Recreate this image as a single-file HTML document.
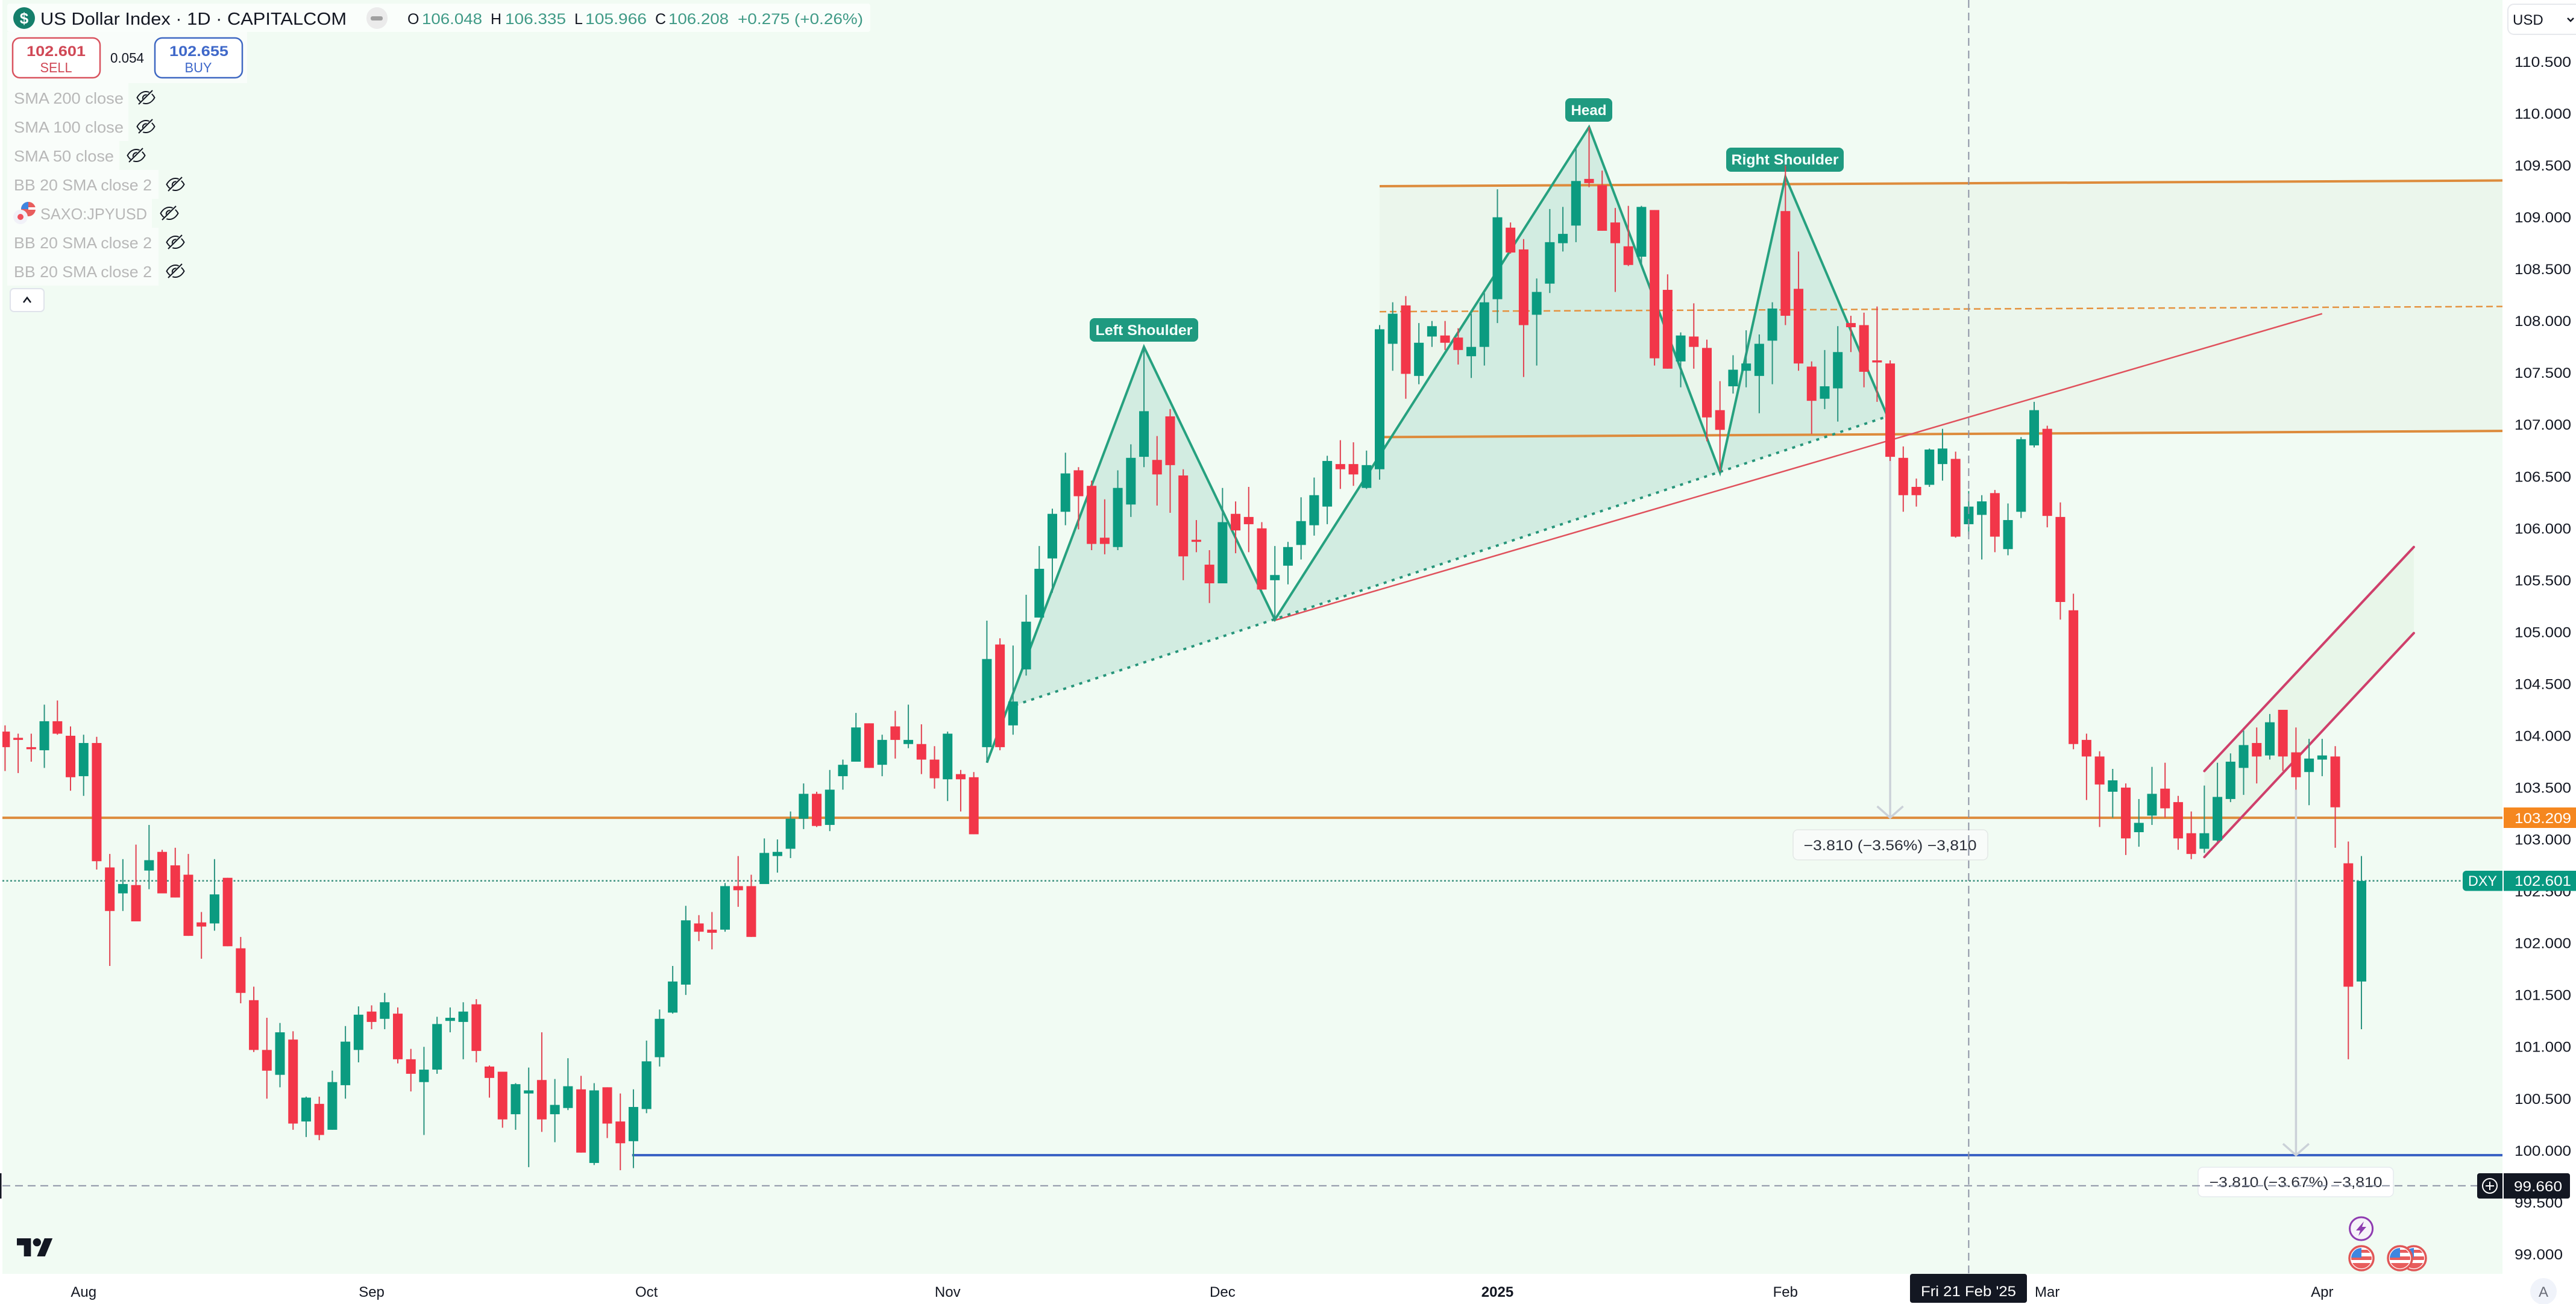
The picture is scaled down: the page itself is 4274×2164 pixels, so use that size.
<!DOCTYPE html>
<html lang="en">
<head>
<meta charset="utf-8">
<title>US Dollar Index 1D chart</title>
<style>
html,body{margin:0;padding:0;background:#fff;width:4274px;height:2164px;overflow:hidden}
svg{display:block;font-family:"Liberation Sans",sans-serif}
</style>
</head>
<body>
<svg id="chart" xmlns="http://www.w3.org/2000/svg" width="4274" height="2164" viewBox="0 0 4274 2164">
  <defs>
    <clipPath id="plot-clip"><rect x="4" y="0" width="4148" height="2114"/></clipPath>
    <clipPath id="flag-clip"><circle cx="0" cy="0" r="17"/></clipPath>
    <symbol id="eye" viewBox="-16 -13 32 26" overflow="visible">
      <path d="M-14.5 0C-10 -8 -4 -10 0 -10C4 -10 10 -8 14.5 0C10 8 4 10 0 10C-4 10 -10 8 -14.5 0Z" fill="none" stroke="#131722" stroke-width="2"/>
      <path d="M-5 3C-6 -3 -2 -5 2 -4.500" fill="none" stroke="#131722" stroke-width="2"/>
      <path d="M-11 12L12 -12" stroke="#f1fbf3" stroke-width="5"/>
      <path d="M-12 11L11 -12" stroke="#131722" stroke-width="2"/>
    </symbol>
    <symbol id="usflag" viewBox="-22 -22 44 44" overflow="visible">
      <circle cx="0" cy="0" r="20" fill="#fff" stroke="#e05656" stroke-width="3.500"/>
      <g clip-path="url(#flag-clip)">
        <rect x="-17" y="-3" width="34" height="6" fill="#e85d5d"/>
        <rect x="-17" y="8" width="34" height="10" fill="#e85d5d"/>
        <rect x="-17" y="-17" width="17" height="16" fill="#3f86e0"/>
        <rect x="0" y="-14" width="17" height="5" fill="#e85d5d"/>
      </g>
    </symbol>
  </defs>

  <rect x="0" y="0" width="4274" height="2164" fill="#ffffff"/>
  <rect x="4" y="0" width="4148" height="2114" fill="#f1fbf3"/>

  <g id="drawings" clip-path="url(#plot-clip)"></g>
  <g id="pattern-labels">
    <rect x="1808" y="528" width="180" height="39" rx="8" fill="#1f9a80"/>
    <text x="1898" y="556" text-anchor="middle" font-size="24" font-weight="700" fill="#f4fffb" textLength="161" lengthAdjust="spacingAndGlyphs">Left Shoulder</text>
    <rect x="2597" y="163" width="78" height="39" rx="8" fill="#1f9a80"/>
    <text x="2636" y="191" text-anchor="middle" font-size="24" font-weight="700" fill="#f4fffb" textLength="59" lengthAdjust="spacingAndGlyphs">Head</text>
    <rect x="2864" y="245" width="195" height="40" rx="8" fill="#1f9a80"/>
    <text x="2961.500" y="273" text-anchor="middle" font-size="24" font-weight="700" fill="#f4fffb" textLength="178" lengthAdjust="spacingAndGlyphs">Right Shoulder</text>
  </g>
  <g id="candles" clip-path="url(#plot-clip)"></g>

  <g>
    <rect x="2975" y="1377" width="323" height="50" rx="8" fill="#f8fbf9" stroke="#e3e8e6" stroke-width="1.500"/>
    <text x="3136" y="1411" text-anchor="middle" font-size="24" fill="#2a2e39" textLength="287" lengthAdjust="spacingAndGlyphs">−3.810 (−3.56%) −3,810</text>
    <rect x="3647" y="1937" width="324" height="49" rx="8" fill="#ffffff" stroke="#e6eaee" stroke-width="1.500"/>
    <text x="3809" y="1970" text-anchor="middle" font-size="24" fill="#2a2e39" textLength="287" lengthAdjust="spacingAndGlyphs">−3.810 (−3.67%) −3,810</text>
  </g>
  <g id="crosshair" clip-path="url(#plot-clip)"></g>

  <g transform="translate(28 2048.300) scale(1.667)" fill="#131722">
    <path d="M14 22H7V11H0V4h14v18zM28 22h-8l7.500-18h8L28 22z"/>
    <circle cx="20" cy="8" r="4"/>
  </g>

  <g>
    <g>
      <circle cx="3917.600" cy="2039" r="19" fill="#f6f2f9" stroke="#8e3bb0" stroke-width="3"/>
      <path d="M3922 2027L3909 2042H3916L3913 2051L3926 2036H3919Z" fill="#8e3bb0"/>
    </g>
    <use href="#usflag" x="3983" y="2066" width="44" height="44"/>
    <use href="#usflag" x="3960" y="2066" width="44" height="44"/>
    <use href="#usflag" x="3896" y="2066" width="44" height="44"/>
  </g>

  <g>
    <rect x="12" y="6" width="1432" height="47" rx="4" fill="#ffffff" fill-opacity="0.65"/>
    <rect x="12" y="53" width="398" height="85" fill="#ffffff" fill-opacity="0.6"/>
    <circle cx="40" cy="30" r="18" fill="#157f6b"/>
    <text x="40" y="39.500" text-anchor="middle" font-size="26" font-weight="700" fill="#ffffff">$</text>
    <text x="67" y="41" font-size="29" fill="#131722" textLength="508" lengthAdjust="spacingAndGlyphs">US Dollar Index · 1D · CAPITALCOM</text>
    <rect x="608" y="12" width="35" height="36" rx="17.500" fill="#ebebeb"/>
    <rect x="615" y="27" width="20" height="7" rx="3" fill="#a0a0a0"/>
    <text x="676" y="40" font-size="25" fill="#131722">O</text>
    <text x="700" y="40" font-size="25" fill="#3f9a86" textLength="100" lengthAdjust="spacingAndGlyphs">106.048</text>
    <text x="814" y="40" font-size="25" fill="#131722">H</text>
    <text x="838" y="40" font-size="25" fill="#3f9a86" textLength="101" lengthAdjust="spacingAndGlyphs">106.335</text>
    <text x="953" y="40" font-size="25" fill="#131722">L</text>
    <text x="971" y="40" font-size="25" fill="#3f9a86" textLength="102" lengthAdjust="spacingAndGlyphs">105.966</text>
    <text x="1087" y="40" font-size="25" fill="#131722">C</text>
    <text x="1109" y="40" font-size="25" fill="#3f9a86" textLength="100" lengthAdjust="spacingAndGlyphs">106.208</text>
    <text x="1224" y="40" font-size="25" fill="#3f9a86" textLength="208" lengthAdjust="spacingAndGlyphs">+0.275 (+0.26%)</text>

    <rect x="21" y="63" width="145" height="66" rx="12" fill="#ffffff" stroke="#d9535f" stroke-width="2.500"/>
    <text x="93" y="93" text-anchor="middle" font-size="24" font-weight="700" fill="#d04856" textLength="98" lengthAdjust="spacingAndGlyphs">102.601</text>
    <text x="93" y="120" text-anchor="middle" font-size="23" fill="#d04856" textLength="53" lengthAdjust="spacingAndGlyphs">SELL</text>
    <text x="211" y="104" text-anchor="middle" font-size="23" fill="#131722" textLength="56" lengthAdjust="spacingAndGlyphs">0.054</text>
    <rect x="257" y="63" width="145" height="66" rx="12" fill="#ffffff" stroke="#3f68c2" stroke-width="2.500"/>
    <text x="330" y="93" text-anchor="middle" font-size="24" font-weight="700" fill="#3f68c9" textLength="98" lengthAdjust="spacingAndGlyphs">102.655</text>
    <text x="329" y="120" text-anchor="middle" font-size="23" fill="#3f68c9" textLength="45" lengthAdjust="spacingAndGlyphs">BUY</text>

    <rect x="12" y="138" width="201" height="48" fill="#ffffff" fill-opacity="0.6"/>
    <rect x="12" y="186" width="201" height="48" fill="#ffffff" fill-opacity="0.6"/>
    <rect x="12" y="234" width="186" height="48" fill="#ffffff" fill-opacity="0.6"/>
    <rect x="12" y="282" width="251" height="48" fill="#ffffff" fill-opacity="0.6"/>
    <rect x="12" y="330" width="240" height="48" fill="#ffffff" fill-opacity="0.6"/>
    <rect x="12" y="378" width="251" height="48" fill="#ffffff" fill-opacity="0.6"/>
    <rect x="12" y="426" width="251" height="48" fill="#ffffff" fill-opacity="0.6"/>

    <text x="23" y="172" font-size="26" fill="#b8b8b8" textLength="182" lengthAdjust="spacingAndGlyphs">SMA 200 close</text>
    <text x="23" y="220" font-size="26" fill="#b8b8b8" textLength="182" lengthAdjust="spacingAndGlyphs">SMA 100 close</text>
    <text x="23" y="268" font-size="26" fill="#b8b8b8" textLength="166" lengthAdjust="spacingAndGlyphs">SMA 50 close</text>
    <text x="23" y="316" font-size="26" fill="#b8b8b8" textLength="229" lengthAdjust="spacingAndGlyphs">BB 20 SMA close 2</text>
    <text x="67" y="364" font-size="26" fill="#b8b8b8" textLength="177" lengthAdjust="spacingAndGlyphs">SAXO:JPYUSD</text>
    <text x="23" y="412" font-size="26" fill="#b8b8b8" textLength="229" lengthAdjust="spacingAndGlyphs">BB 20 SMA close 2</text>
    <text x="23" y="460" font-size="26" fill="#b8b8b8" textLength="229" lengthAdjust="spacingAndGlyphs">BB 20 SMA close 2</text>

    <use href="#eye" x="226" y="149" width="32" height="26"/>
    <use href="#eye" x="226" y="197" width="32" height="26"/>
    <use href="#eye" x="210" y="245" width="32" height="26"/>
    <use href="#eye" x="275" y="293" width="32" height="26"/>
    <use href="#eye" x="265" y="341" width="32" height="26"/>
    <use href="#eye" x="275" y="389" width="32" height="26"/>
    <use href="#eye" x="275" y="437" width="32" height="26"/>

    <g>
      <circle cx="47" cy="347" r="12" fill="#e85d5d"/>
      <path d="M35 347A12 12 0 0 1 47 335V347Z" fill="#3f86e0"/>
      <rect x="47" y="344" width="12" height="4" fill="#ffffff"/>
      <circle cx="34" cy="360" r="12" fill="#f1f1f8"/>
      <circle cx="34" cy="360" r="5" fill="#f0505c"/>
    </g>

    <rect x="17" y="479" width="56" height="38" rx="6" fill="#ffffff" stroke="#e0e3eb" stroke-width="2"/>
    <path d="M39 502L45 494L51 502" fill="none" stroke="#131722" stroke-width="2.500"/>
  </g>

  <g id="y-axis">
    <rect x="4152" y="0" width="122" height="2164" fill="#ffffff"/>
    <rect x="4161" y="7" width="125" height="50" rx="10" fill="#ffffff" stroke="#e6e8ec" stroke-width="2"/>
    <text x="4169" y="41" font-size="24" fill="#131722">USD</text>
    <path d="M4260 30L4265 35L4270 30" fill="none" stroke="#131722" stroke-width="2.500"/>
  </g>
  <g id="x-axis">
    <rect x="0" y="2114" width="4152" height="50" fill="#ffffff"/>
  </g>

  <g>
    <rect x="4154" y="1340" width="120" height="34" fill="#f5871f"/>
    <text x="4172" y="1366" font-size="24" fill="#ffffff" textLength="94" lengthAdjust="spacingAndGlyphs">103.209</text>
    <path d="M4152 1445H4092a6 6 0 0 0 -6 6V1472.500a6 6 0 0 0 6 6H4152Z" fill="#089981"/>
    <text x="4119" y="1470" text-anchor="middle" font-size="24" fill="#ffffff" textLength="48" lengthAdjust="spacingAndGlyphs">DXY</text>
    <rect x="4154" y="1445" width="120" height="33.500" fill="#089981"/>
    <text x="4172" y="1470" font-size="24" fill="#ffffff" textLength="94" lengthAdjust="spacingAndGlyphs">102.601</text>
    <path d="M4152 1947H4114a4 4 0 0 0 -4 4V1985a4 4 0 0 0 4 4H4152Z" fill="#131722"/>
    <circle cx="4131" cy="1968" r="12" fill="none" stroke="#ffffff" stroke-width="2"/>
    <path d="M4124 1968H4138M4131 1961V1975" stroke="#ffffff" stroke-width="2"/>
    <path d="M4154 1947H4260a4 4 0 0 1 4 4V1985a4 4 0 0 1 -4 4H4154Z" fill="#131722"/>
    <text x="4171" y="1977" font-size="24" fill="#ffffff" textLength="80" lengthAdjust="spacingAndGlyphs">99.660</text>
    <rect x="3169" y="2114" width="194" height="48" rx="4" fill="#131722"/>
    <text x="3266" y="2151" text-anchor="middle" font-size="24" fill="#ffffff" textLength="158" lengthAdjust="spacingAndGlyphs">Fri 21 Feb '25</text>
    <circle cx="4220" cy="2143" r="22" fill="#f0f3fa"/>
    <text x="4220" y="2152" text-anchor="middle" font-size="24" fill="#6a6d78">A</text>
    <rect x="0" y="1947" width="2.500" height="42" fill="#131722"/>
  </g>
</svg>

<script>
// ---------- candle data ----------
const opens = [
104.04,103.98,103.89,103.86,104.14,104.00,103.61,103.93,102.73,102.48,
102.56,102.70,102.88,102.75,102.66,102.20,102.19,102.63,101.95,101.45,
100.97,100.73,101.07,100.28,100.45,100.20,100.63,100.97,101.34,101.27,
101.32,100.88,100.66,100.78,101.25,101.24,101.41,100.81,100.76,100.35,
100.55,100.68,100.35,100.41,100.59,99.88,100.61,100.28,100.09,100.40,
100.90,101.33,101.60,102.19,102.13,102.13,102.55,102.55,102.57,102.84,
102.91,103.20,103.44,103.14,103.61,103.75,104.12,103.72,104.09,103.92,
103.92,103.77,103.58,103.63,103.60,103.89,104.88,104.10,104.64,105.14,
105.71,106.16,106.56,106.41,105.91,105.82,106.23,106.69,106.66,107.08,
106.51,105.89,105.65,105.47,106.14,106.11,106.00,105.50,105.64,105.84,
106.03,106.21,106.62,106.62,106.39,106.57,107.78,108.15,107.47,107.85,
107.86,107.84,107.66,107.75,108.21,108.90,108.69,108.06,108.36,108.75,
108.92,109.37,109.31,108.95,108.72,108.62,109.07,108.30,107.61,107.85,
107.74,107.14,107.37,107.52,107.47,107.81,109.06,108.31,107.56,107.25,
107.35,107.98,107.96,107.62,107.59,106.68,106.40,106.42,106.62,106.67,
106.04,106.13,106.34,105.80,106.16,106.80,106.96,106.11,105.21,103.96,
103.80,103.46,103.50,103.07,103.23,103.49,103.36,103.06,102.91,102.99,
103.39,103.69,103.93,103.81,104.25,103.84,103.65,103.77,103.80,102.77,101.63];
const closes = [
103.89,103.96,103.87,104.14,104.02,103.60,103.93,102.79,102.31,102.57,
102.21,102.80,102.48,102.44,102.07,102.16,102.47,101.97,101.52,100.97,
100.77,101.14,100.26,100.51,100.15,100.66,101.05,101.31,101.24,101.43,
100.88,100.74,100.78,101.22,101.28,101.34,100.96,100.70,100.30,100.64,
100.58,100.30,100.44,100.62,99.98,100.58,100.26,100.07,100.42,100.86,
101.27,101.63,102.22,102.11,102.10,102.55,102.51,102.06,102.87,102.88,
103.20,103.44,103.13,103.48,103.72,104.08,103.69,103.96,103.96,103.96,
103.77,103.59,104.02,103.58,103.05,104.74,103.89,104.33,105.10,105.61,
106.14,106.53,106.31,105.85,105.85,106.39,106.68,107.13,106.52,106.61,
105.73,105.87,105.47,106.06,105.98,106.04,105.41,105.55,105.82,106.07,
106.32,106.65,106.57,106.52,106.61,107.92,108.07,107.49,107.79,107.95,
107.79,107.72,107.75,108.18,109.00,108.66,107.96,108.28,108.76,108.84,
109.35,109.33,108.87,108.75,108.54,109.10,107.64,107.54,107.86,107.75,
107.07,106.95,107.53,107.59,107.78,108.12,108.05,107.59,107.23,107.37,
107.70,107.94,107.51,107.60,106.69,106.32,106.32,106.76,106.77,105.92,
106.21,106.26,105.92,106.08,106.86,107.14,106.12,105.29,103.92,103.80,
103.53,103.57,103.01,103.16,103.44,103.30,103.01,102.86,103.06,103.41,
103.75,103.91,103.80,104.13,103.80,103.60,103.78,103.81,103.31,101.58,102.60];
const highs = [
104.10,104.02,104.02,104.30,104.34,104.09,104.01,103.99,102.86,102.81,
102.95,103.14,102.90,102.92,102.86,102.30,102.81,102.63,102.06,101.58,
101.28,101.23,101.15,100.52,100.52,100.77,101.20,101.39,101.40,101.52,
101.38,100.98,101.00,101.29,101.38,101.43,101.46,100.82,100.76,100.65,
100.80,101.14,100.69,100.89,100.72,100.65,100.61,100.55,100.59,101.06,
101.36,101.78,102.36,102.27,102.30,102.58,102.84,102.66,103.01,103.00,
103.27,103.54,103.46,103.67,103.77,104.22,104.12,104.01,104.24,104.30,
104.11,103.90,104.04,103.67,103.65,105.11,104.94,104.87,105.36,105.83,
106.19,106.73,106.59,106.46,106.28,106.56,106.81,107.75,106.89,107.15,
106.57,106.08,105.79,106.39,106.26,106.40,106.06,105.83,105.87,106.30,
106.49,106.70,106.85,106.83,106.75,107.96,108.18,108.24,107.98,108.00,
108.00,107.93,108.07,108.27,109.27,108.95,108.79,108.41,109.08,109.10,
109.66,109.87,109.45,109.09,109.11,109.11,109.07,108.45,107.89,108.17,
107.82,107.42,107.67,107.91,107.87,108.18,109.50,108.67,107.61,107.72,
107.95,108.05,108.08,108.14,107.62,106.79,106.48,106.77,106.96,106.74,
106.36,106.32,106.37,106.24,106.88,107.22,106.99,106.25,105.37,104.02,
103.85,103.68,103.54,103.39,103.70,103.74,103.42,103.27,103.52,103.74,
103.83,104.05,104.08,104.21,104.25,104.08,103.97,103.97,103.90,102.98,102.84];
const lows = [
103.66,103.64,103.75,103.69,104.01,103.47,103.42,102.71,101.78,102.31,
102.21,102.52,102.48,102.44,102.07,101.85,102.12,101.97,101.42,100.95,
100.50,100.61,100.20,100.13,100.10,100.20,100.50,100.85,101.17,101.17,
100.84,100.57,100.15,100.74,101.14,100.88,100.85,100.51,100.22,100.20,
99.84,100.18,100.08,100.39,99.98,99.86,100.12,99.81,99.83,100.36,
100.81,101.32,101.50,102.02,101.94,102.11,102.35,102.06,102.57,102.68,
102.82,103.10,103.12,103.08,103.48,103.75,103.69,103.61,103.78,103.88,
103.63,103.49,103.37,103.27,103.05,103.74,103.86,104.01,104.58,105.14,
105.38,106.03,105.99,105.79,105.75,105.79,106.11,106.59,106.22,106.15,
105.50,105.77,105.28,105.47,105.76,105.77,105.41,105.12,105.46,105.70,
105.93,106.04,106.38,106.41,106.38,106.47,107.52,107.25,107.39,107.75,
107.72,107.58,107.45,107.57,107.98,108.65,107.46,107.57,108.27,108.67,
108.76,109.29,108.87,108.28,108.53,108.55,107.57,107.54,107.36,107.54,
106.84,106.55,107.30,107.36,107.11,107.39,107.96,107.52,106.91,107.15,
107.03,107.70,107.36,107.22,106.65,106.16,106.21,106.40,106.46,105.91,
105.94,105.70,105.77,105.74,106.10,106.78,106.01,105.12,103.87,103.38,
103.12,103.21,102.85,102.93,103.14,103.21,102.90,102.81,102.87,102.98,
103.36,103.43,103.54,103.77,103.66,103.48,103.33,103.61,102.92,100.88,101.17];

// ---------- axis labels ----------
const priceTicks = [110.5,110,109.5,109,108.5,108,107.5,107,106.5,106,105.5,105,104.5,104,103.5,103,102.5,102,101.5,101,100.5,100,99.5,99];
const timeLabels = ['Aug','Sep','Oct','Nov','Dec','2025','Feb','Mar','Apr'];
const timeTickBars = [6,28,49,72,93,114,136,156,177];

// ---------- drawing anchors (bar number / price) ----------
const patternBars = [76.55,87,97,121,131,136,143.8];
const patternPrices = [104.27,107.75,105.12,109.87,106.54,109.39,107.08];
const zigzagStartBar = [75];
const zigzagStartPrice = [103.74];
const necklineBars = [76.55,143.8];
const necklinePrices = [104.27,107.08];
const trendBars = [96.9,177];
const trendPrices = [105.11,108.07];
const zoneBars = [105,190.8];
const zoneTopPrices = [109.30,109.355];
const zoneBottomPrices = [106.88,106.94];
const zoneMidPrices = [108.09,108.14];
const channelBars = [168,184];
const channelTopPrices = [103.66,105.82];
const channelBottomPrices = [102.83,104.99];
const arrowBars = [144,175];
const arrowStartPrices = [106.70,103.48];
const arrowEndPrices = [103.209,99.955];
const alertPrice = 103.209;
const lastPrice = 102.601;
const supportBar = 47.9;
const supportPrice = 99.955;
const crosshairBar = 150;
const crosshairPrice = 99.66;

// ---------- scales ----------
const barOrigin = 8.4, barStep = 21.72, bodyWidth = 16;
const priceAt110 = 188.5, pxPerUnit = 172.08;
function xScale(bar){ return barOrigin + barStep * bar; }
function yScale(price){ return priceAt110 + (110 - price) * pxPerUnit; }

const NS = 'http://www.w3.org/2000/svg';
function mk(tag, attrs, parent){
  const e = document.createElementNS(NS, tag);
  for (const k in attrs) e.setAttribute(k, attrs[k]);
  parent.appendChild(e);
  return e;
}
function pts(bars, prices){
  return bars.map(function(b,i){ return xScale(b).toFixed(1)+','+yScale(prices[i]).toFixed(1); }).join(' ');
}
const drawings = document.getElementById('drawings');
const candles = document.getElementById('candles');
const crosshair = document.getElementById('crosshair');
const yAxis = document.getElementById('y-axis');
const xAxis = document.getElementById('x-axis');

// range zone
const zone = mk('polygon',{points:pts(zoneBars,zoneTopPrices)+' '+pts(zoneBars.slice().reverse(),zoneBottomPrices.slice().reverse()),fill:'#ebf6ec'},drawings);



// channel
const chFill = mk('polygon',{points:pts(channelBars,channelTopPrices)+' '+pts(channelBars.slice().reverse(),channelBottomPrices.slice().reverse()),fill:'#e8f6e9'},drawings);



// head & shoulders fill
const hsFill = mk('polygon',{points:pts(patternBars,patternPrices),fill:'#d2ece1'},drawings);



// range lines
const zoneTop = mk('polyline',{points:pts(zoneBars,zoneTopPrices),fill:'none',stroke:'#dd8b3c','stroke-width':4},drawings);


const zoneBottom = mk('polyline',{points:pts(zoneBars,zoneBottomPrices),fill:'none',stroke:'#dd8b3c','stroke-width':4},drawings);


const zoneMid = mk('polyline',{points:pts(zoneBars,zoneMidPrices),fill:'none',stroke:'#e5923f','stroke-width':2.5,'stroke-dasharray':'11 6'},drawings);



// horizontal levels
const alertLine = mk('line',{x1:4,x2:4152,y1:yScale(alertPrice),y2:yScale(alertPrice),stroke:'#dd8b3c','stroke-width':4},drawings);


const lastLine = mk('line',{x1:4,x2:4086,y1:yScale(lastPrice),y2:yScale(lastPrice),stroke:'#3a8f7e','stroke-width':2.5,'stroke-dasharray':'3 3.5'},drawings);


const support = mk('line',{x1:xScale(supportBar),x2:4152,y1:yScale(supportPrice),y2:yScale(supportPrice),stroke:'#3b62c4','stroke-width':4},drawings);



// trend line
const trend = mk('polyline',{points:pts(trendBars,trendPrices),fill:'none',stroke:'#e0515c','stroke-width':2.5},drawings);



// channel lines
const chTop = mk('polyline',{points:pts(channelBars,channelTopPrices),fill:'none',stroke:'#cf3f6b','stroke-width':4,'stroke-linecap':'round'},drawings);


const chBottom = mk('polyline',{points:pts(channelBars,channelBottomPrices),fill:'none',stroke:'#cf3f6b','stroke-width':4,'stroke-linecap':'round'},drawings);



// zigzag + neckline
const zigzag = mk('polyline',{points:pts(zigzagStartBar.concat(patternBars.slice(1)),zigzagStartPrice.concat(patternPrices.slice(1))),fill:'none',stroke:'#26a17f','stroke-width':4,'stroke-linejoin':'miter'},drawings);


const neck = mk('polyline',{points:pts(necklineBars,necklinePrices),fill:'none',stroke:'#26957a','stroke-width':4,'stroke-dasharray':'5 9'},drawings);



// measure arrows
arrowBars.forEach(function(bar,i){
  const ax = xScale(bar), y0 = yScale(arrowStartPrices[i]), y1 = yScale(arrowEndPrices[i]);
  const shaft = mk('line',{x1:ax,x2:ax,y1:y0,y2:y1,stroke:'#cbd1d8','stroke-width':3.5},drawings);
  
  
  const head = mk('path',{d:'M'+(ax-21.5)+' '+(y1-19)+'L'+ax+' '+y1+'L'+(ax+21.5)+' '+(y1-19),fill:'none',stroke:'#cbd1d8','stroke-width':3.5},drawings);
  
  
});

// candles
opens.forEach(function(open,i){
  const close = closes[i];
  const up = close >= open;
  const color = up ? '#0b9b80' : '#f23649';
  const wickColor = up ? '#2a9480' : '#e2404f';
  const cx = xScale(i);
  const wick = mk('line',{x1:cx,x2:cx,y1:yScale(highs[i]),y2:yScale(lows[i]),stroke:wickColor,'stroke-width':2},candles);
  
  
  const top = yScale(Math.max(open,close));
  const h = Math.max(2,Math.abs(yScale(open)-yScale(close)));
  const body = mk('rect',{x:cx-bodyWidth/2,y:top,width:bodyWidth,height:h,fill:color},candles);
  
  
});

// crosshair
const crossV = mk('line',{x1:xScale(crosshairBar),x2:xScale(crosshairBar),y1:0,y2:2114,stroke:'#8d93a5','stroke-width':2,'stroke-dasharray':'13 8'},crosshair);


const crossH = mk('line',{x1:4,x2:4110,y1:yScale(crosshairPrice),y2:yScale(crosshairPrice),stroke:'#8d93a5','stroke-width':2,'stroke-dasharray':'13 8'},crosshair);



// price axis labels
priceTicks.forEach(function(v){
  const label = v.toFixed(3);
  const t = mk('text',{x:4172,y:yScale(v)+8.5,'font-size':24,fill:'#131722',textLength:label.length>6?94:80,lengthAdjust:'spacingAndGlyphs'},yAxis);
  t.textContent = label;
  
  
});

// time axis labels
timeLabels.forEach(function(label,i){
  const t = mk('text',{x:xScale(timeTickBars[i]),y:2152,'text-anchor':'middle','font-size':24,'font-weight':label==='2025'?'700':'400',fill:'#131722'},xAxis);
  t.textContent = label;
  
  
});
</script>
</body>
</html>
